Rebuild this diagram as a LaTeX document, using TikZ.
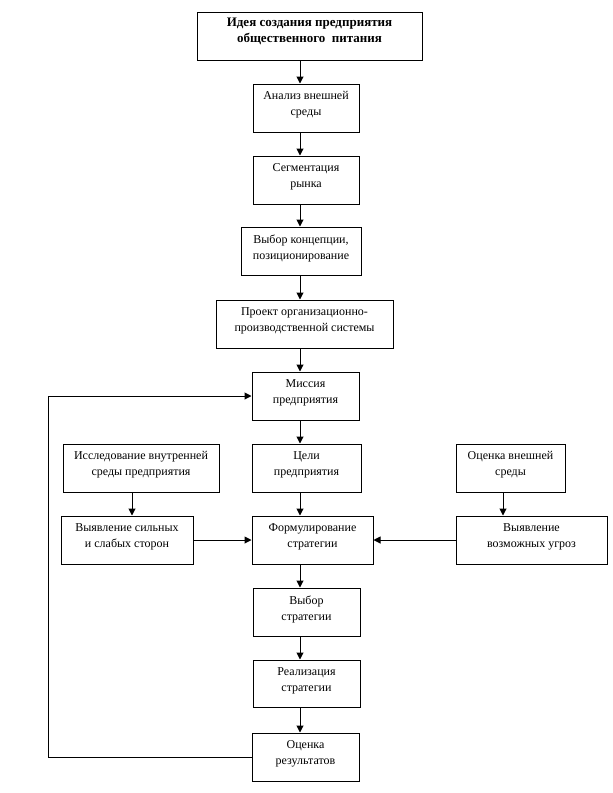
\documentclass[tikz,border=0pt]{standalone}
\usepackage{fontspec}
\setmainfont{Liberation Serif}
\usetikzlibrary{arrows.meta}
\tikzset{
  box/.style={draw, line width=1pt, inner sep=0pt},
  txt/.style={align=center, inner sep=0pt, font=\fontsize{12}{16}\selectfont, yshift=3pt},
  btxt/.style={txt, font=\fontsize{13}{16}\selectfont\bfseries, yshift=2pt},
  arr/.style={line width=1pt, -{Triangle[length=7pt,width=7pt]}},
  ln/.style={line width=1pt}
}
\newcommand{\mkbox}[6]{%
  \node[box, minimum width={(#4-#2)*1pt}, minimum height={(#5-#3)*1pt},
        label={[txt]center:{#6}}] (#1) at ({(#2+#4)/2},{(#3+#5)/2}) {};}
\begin{document}
\begin{tikzpicture}[x=1pt,y=-1pt]
\useasboundingbox (0,0) rectangle (613,793);
\fill[white] (0,0) rectangle (613,793);
\node[box, minimum width=225pt, minimum height=48pt,
      label={[btxt]center:{Идея создания предприятия\\общественного\ \ питания}}] (idea) at (309.5,36) {};
\mkbox{anal}{253}{84}{359}{132}{Анализ внешней\\среды}
\mkbox{seg}{253}{156}{359}{204}{Сегментация\\рынка}
\mkbox{vybor}{241}{227}{361}{275}{Выбор концепции,\\позиционирование}
\mkbox{proekt}{216}{300}{393}{348}{Проект организационно-\\производственной системы}
\mkbox{miss}{252}{372}{359}{420}{Миссия\\предприятия}
\mkbox{tseli}{252}{444}{361}{492}{Цели\\предприятия}
\mkbox{issl}{63}{444}{219}{492}{Исследование внутренней\\среды предприятия}
\mkbox{ocvn}{456}{444}{565}{492}{Оценка внешней\\среды}
\mkbox{vyyav}{61}{516}{193}{564}{Выявление сильных\\и слабых сторон}
\mkbox{form}{252}{516}{373}{564}{Формулирование\\стратегии}
\mkbox{ugroz}{456}{516}{607}{564}{Выявление\\возможных угроз}
\mkbox{vybstr}{253}{588}{360}{636}{Выбор\\стратегии}
\mkbox{real}{253}{660}{360}{707}{Реализация\\стратегии}
\mkbox{ocres}{252}{733}{359}{781}{Оценка\\результатов}
\coordinate (colx) at (300,0);
\coordinate (lcol) at (132,0);
\coordinate (rcol) at (503,0);
\coordinate (fbx) at (48,0);
\draw[arr] (idea.south -| colx) -- (anal.north -| colx);
\draw[arr] (anal.south -| colx) -- (seg.north -| colx);
\draw[arr] (seg.south -| colx) -- (vybor.north -| colx);
\draw[arr] (vybor.south -| colx) -- (proekt.north -| colx);
\draw[arr] (proekt.south -| colx) -- (miss.north -| colx);
\draw[arr] (miss.south -| colx) -- (tseli.north -| colx);
\draw[arr] (tseli.south -| colx) -- (form.north -| colx);
\draw[arr] (form.south -| colx) -- (vybstr.north -| colx);
\draw[arr] (vybstr.south -| colx) -- (real.north -| colx);
\draw[arr] (real.south -| colx) -- (ocres.north -| colx);
\draw[arr] (issl.south -| lcol) -- (vyyav.north -| lcol);
\draw[arr] (ocvn.south -| rcol) -- (ugroz.north -| rcol);
\draw[arr] (vyyav.east) -- (form.west);
\draw[arr] (ugroz.west) -- (form.east);
\draw[arr] (ocres.west) -- (ocres.west -| fbx) -- (miss.west -| fbx) -- (miss.west);
\end{tikzpicture}
\end{document}
